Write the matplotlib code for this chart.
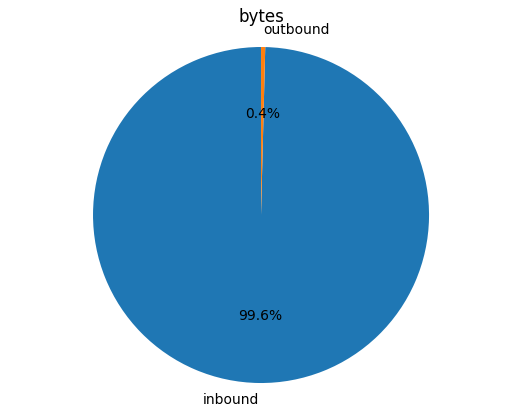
import matplotlib
matplotlib.use('Agg')
import matplotlib.pyplot as plt

labels = ['inbound', 'outbound']
sizes = [99.6, 0.4]

fig = plt.figure(figsize=(5.23, 4.16), dpi=100)
ax = fig.add_axes([0.0249, 0.0389, 0.9484, 0.8885])
ax.pie(sizes, labels=labels, autopct='%1.1f%%', startangle=90)
ax.axis('equal')
ax.set_title('bytes')
fig.savefig('out.png')
